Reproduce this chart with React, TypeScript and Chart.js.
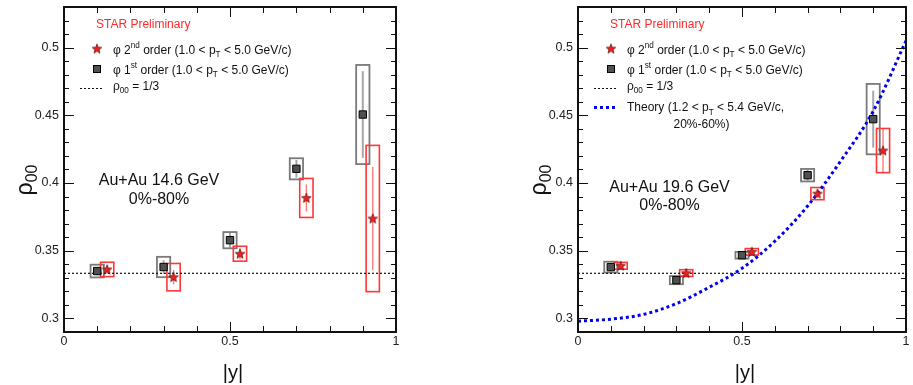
import React, { useEffect, useRef } from 'react';
import { Chart, registerables } from 'chart.js';

Chart.register(...registerables);

const FONT = '"Liberation Sans", Arial, Helvetica, sans-serif';

// ---------------- data ----------------
const xTickValues = [0, 0.5, 1];
const xTickLabels = ['0', '0.5', '1'];
const yTickValues = [0.3, 0.35, 0.4, 0.45, 0.5];
const yTickLabels = ['0.3', '0.35', '0.4', '0.45', '0.5'];

const rapidity1st = [0.1, 0.3, 0.5, 0.7, 0.9];
const rapidity2nd = [0.13, 0.33, 0.53, 0.73, 0.93];

// Au+Au 14.6 GeV
const rho1st_14p6 = [0.335, 0.338, 0.3578, 0.4105, 0.4506];
const stat1st_14p6 = [0.003, 0.005, 0.0055, 0.0065, 0.032];
const sys1st_14p6 = [0.0047, 0.0075, 0.006, 0.0078, 0.0366];
const rho2nd_14p6 = [0.3362, 0.3305, 0.3478, 0.389, 0.3738];
const stat2nd_14p6 = [0.003, 0.0053, 0.004, 0.01, 0.038];
const sys2nd_14p6 = [0.0053, 0.0101, 0.0055, 0.0144, 0.054];

// Au+Au 19.6 GeV
const rho1st_19p6 = [0.3379, 0.3283, 0.3467, 0.4058, 0.4472];
const stat1st_19p6 = [0.003, 0.002, 0.002, 0.004, 0.021];
const sys1st_19p6 = [0.004, 0.003, 0.0025, 0.0046, 0.026];
const rho2nd_19p6 = [0.3389, 0.3335, 0.3492, 0.3922, 0.424];
const stat2nd_19p6 = [0.0015, 0.0015, 0.0015, 0.003, 0.016];
const sys2nd_19p6 = [0.0025, 0.0025, 0.0024, 0.0045, 0.0163];

// Theory (1.2 < pT < 5.4 GeV/c, 20%-60%)
const theoryRapidity = [0, 0.1, 0.2, 0.3, 0.4, 0.5, 0.6, 0.7, 0.8, 0.9, 1.0];
const theoryRho = [0.298, 0.2995, 0.303, 0.311, 0.323, 0.337, 0.357, 0.383, 0.416, 0.453, 0.505];

const rhoOneThird = 1 / 3;
// --------------------------------------

const W = 457;
const H = 385;
const BOX_HALF = 0.02;

type Seg = [string, number];

interface PanelCfg {
  left: number;
  padL: number;
  padR: number;
  rho1: number[];
  stat1: number[];
  sys1: number[];
  rho2: number[];
  stat2: number[];
  sys2: number[];
  energy: string;
  centrality: string;
  energyDX: number;
  energyY: number;
  centY: number;
  theory: boolean;
}

const panel14: PanelCfg = {
  left: 0, padL: 0, padR: 61,
  rho1: rho1st_14p6, stat1: stat1st_14p6, sys1: sys1st_14p6,
  rho2: rho2nd_14p6, stat2: stat2nd_14p6, sys2: sys2nd_14p6,
  energy: 'Au+Au 14.6 GeV', centrality: '0%-80%',
  energyDX: 95, energyY: 185, centY: 203.5, theory: false,
};

const panel19: PanelCfg = {
  left: 456, padL: 58, padR: 3,
  rho1: rho1st_19p6, stat1: stat1st_19p6, sys1: sys1st_19p6,
  rho2: rho2nd_19p6, stat2: stat2nd_19p6, sys2: sys2nd_19p6,
  energy: 'Au+Au 19.6 GeV', centrality: '0%-80%',
  energyDX: 91.5, energyY: 192, centY: 210, theory: true,
};

function drawStarShape(g: CanvasRenderingContext2D, cx: number, cy: number, R: number, r: number) {
  g.beginPath();
  for (let i = 0; i < 10; i++) {
    const a = -Math.PI / 2 + (i * Math.PI) / 5;
    const rad = i % 2 === 0 ? R : r;
    const px = cx + rad * Math.cos(a);
    const py = cy + rad * Math.sin(a);
    if (i === 0) g.moveTo(px, py);
    else g.lineTo(px, py);
  }
  g.closePath();
  g.fillStyle = '#f42020';
  g.fill();
  g.strokeStyle = '#6a1212';
  g.lineWidth = 0.8;
  g.stroke();
}

function makeStar(): HTMLCanvasElement {
  const c = document.createElement('canvas');
  c.width = 12;
  c.height = 12;
  const g = c.getContext('2d')!;
  drawStarShape(g, 6, 6.4, 5, 2.1);
  return c;
}

function drawRich(ctx: CanvasRenderingContext2D, x: number, y: number, segs: Seg[], size: number, color: string) {
  let cx = x;
  ctx.fillStyle = color;
  ctx.textBaseline = 'alphabetic';
  ctx.textAlign = 'left';
  for (const [t, m] of segs) {
    const s = m === 0 ? size : size * 0.68;
    ctx.font = `${s}px ${FONT}`;
    const dy = m === 1 ? -size * 0.42 : m === -1 ? size * 0.3 : 0;
    ctx.fillText(t, cx, y + dy);
    cx += ctx.measureText(t).width;
  }
  return cx - x;
}

function makePlugin(cfg: PanelCfg, star: HTMLCanvasElement) {
  return {
    id: 'starDecor',
    beforeDatasetsDraw(chart: any) {
      const ctx: CanvasRenderingContext2D = chart.ctx;
      const xs = chart.scales.x;
      const ys = chart.scales.y;
      const a = chart.chartArea;
      ctx.save();
      ctx.beginPath();
      ctx.rect(a.left, a.top, a.right - a.left, a.bottom - a.top);
      ctx.clip();
      const series = (
        xv: number[], yv: number[], st: number[], sy: number[],
        boxColor: string, boxW: number, barColor: string, barW: number,
      ) => {
        for (let i = 0; i < xv.length; i++) {
          const px = xs.getPixelForValue(xv[i]);
          const x0 = xs.getPixelForValue(xv[i] - BOX_HALF);
          const x1 = xs.getPixelForValue(xv[i] + BOX_HALF);
          const y0 = ys.getPixelForValue(yv[i] + sy[i]);
          const y1 = ys.getPixelForValue(yv[i] - sy[i]);
          ctx.strokeStyle = barColor;
          ctx.lineWidth = barW;
          ctx.beginPath();
          ctx.moveTo(px, ys.getPixelForValue(yv[i] + st[i]));
          ctx.lineTo(px, ys.getPixelForValue(yv[i] - st[i]));
          ctx.stroke();
          ctx.strokeStyle = boxColor;
          ctx.lineWidth = boxW;
          ctx.strokeRect(x0, y0, x1 - x0, y1 - y0);
        }
      };
      series(rapidity1st, cfg.rho1, cfg.stat1, cfg.sys1, '#7a7a7a', 1.8, '#a8a8a8', 2);
      series(rapidity2nd, cfg.rho2, cfg.stat2, cfg.sys2, '#ff3636', 1.6, '#ff7a7a', 1.4);
      ctx.restore();
    },
    afterDraw(chart: any) {
      const ctx: CanvasRenderingContext2D = chart.ctx;
      const xs = chart.scales.x;
      const ys = chart.scales.y;
      const { left: L, right: R, top: T, bottom: B } = chart.chartArea;
      ctx.save();

      // ticks (inward, all four sides)
      ctx.strokeStyle = '#111';
      ctx.lineWidth = 1;
      ctx.beginPath();
      const yStep = 0.01;
      for (let k = Math.ceil(ys.min / yStep - 1e-6); k <= Math.floor(ys.max / yStep + 1e-6); k++) {
        const py = Math.round(ys.getPixelForValue(k * yStep)) + 0.5;
        const len = k % 5 === 0 ? 10 : 5;
        ctx.moveTo(L, py); ctx.lineTo(L + len, py);
        ctx.moveTo(R, py); ctx.lineTo(R - len, py);
      }
      const xStep = 0.1;
      for (let k = Math.ceil(xs.min / xStep - 1e-6); k <= Math.floor(xs.max / xStep + 1e-6); k++) {
        const px = Math.round(xs.getPixelForValue(k * xStep)) + 0.5;
        const len = k % 5 === 0 ? 10 : 6;
        ctx.moveTo(px, B); ctx.lineTo(px, B - len);
        ctx.moveTo(px, T); ctx.lineTo(px, T + len);
      }
      ctx.stroke();

      // frame
      ctx.lineWidth = 2;
      ctx.strokeStyle = '#111';
      ctx.strokeRect(L, T, R - L, B - T);

      // STAR Preliminary
      ctx.fillStyle = '#ff2a2a';
      ctx.font = `12px ${FONT}`;
      ctx.textAlign = 'left';
      ctx.textBaseline = 'alphabetic';
      ctx.fillText('STAR Preliminary', L + 32, 28);

      // legend
      const tx = L + 49;
      ctx.drawImage(star, L + 33 - 6, 49 - 6.4);
      ctx.fillStyle = '#505050';
      ctx.strokeStyle = '#000';
      ctx.lineWidth = 1;
      ctx.fillRect(L + 29.5, 65.5, 7, 7);
      ctx.strokeRect(L + 29.5, 65.5, 7, 7);
      drawRich(ctx, tx, 53.5, [['φ 2', 0], ['nd', 1], [' order (1.0 < p', 0], ['T', -1], [' < 5.0 GeV/c)', 0]], 12, '#111');
      drawRich(ctx, tx, 73.5, [['φ 1', 0], ['st', 1], [' order (1.0 < p', 0], ['T', -1], [' < 5.0 GeV/c)', 0]], 12, '#111');
      ctx.strokeStyle = '#111';
      ctx.lineWidth = 1.2;
      ctx.setLineDash([2, 2]);
      ctx.beginPath();
      ctx.moveTo(L + 16, 88.5); ctx.lineTo(L + 40, 88.5);
      ctx.stroke();
      ctx.setLineDash([]);
      drawRich(ctx, tx, 89.5, [['ρ', 0], ['00', -1], [' = 1/3', 0]], 12, '#111');
      if (cfg.theory) {
        ctx.strokeStyle = '#0000ee';
        ctx.lineWidth = 3;
        ctx.setLineDash([3, 3]);
        ctx.beginPath();
        ctx.moveTo(L + 16, 107.5); ctx.lineTo(L + 40, 107.5);
        ctx.stroke();
        ctx.setLineDash([]);
        drawRich(ctx, tx, 111, [['Theory (1.2 < p', 0], ['T', -1], [' < 5.4 GeV/c,', 0]], 12, '#111');
        drawRich(ctx, L + 95.5, 128, [['20%-60%)', 0]], 12, '#111');
      }

      // energy / centrality
      ctx.fillStyle = '#111';
      ctx.font = `16px ${FONT}`;
      ctx.textAlign = 'center';
      ctx.fillText(cfg.energy, L + cfg.energyDX, cfg.energyY);
      ctx.fillText(cfg.centrality, L + cfg.energyDX, cfg.centY);

      // axis titles
      ctx.font = `20px ${FONT}`;
      ctx.textAlign = 'center';
      ctx.fillText('|y|', (L + R) / 2 + 3, 379);

      ctx.save();
      ctx.translate(L - 32, 180);
      ctx.rotate(-Math.PI / 2);
      ctx.font = `23px ${FONT}`;
      const wr = ctx.measureText('ρ').width;
      ctx.font = `16px ${FONT}`;
      const ws = ctx.measureText('00').width;
      const start = -(wr + ws) / 2;
      ctx.textAlign = 'left';
      ctx.font = `23px ${FONT}`;
      ctx.fillText('ρ', start, 0);
      ctx.font = `16px ${FONT}`;
      ctx.fillText('00', start + wr, 5);
      ctx.restore();

      ctx.restore();
    },
  };
}

function Panel({ cfg }: { cfg: PanelCfg }) {
  const ref = useRef<HTMLCanvasElement>(null);
  useEffect(() => {
    const canvas = ref.current;
    if (!canvas) return;
    const star = makeStar();
    const datasets: any[] = [
      {
        type: 'scatter',
        label: 'φ 2nd order',
        data: rapidity2nd.map((x, i) => ({ x, y: cfg.rho2[i] })),
        pointStyle: star,
        pointRadius: 6,
      },
      {
        type: 'scatter',
        label: 'φ 1st order',
        data: rapidity1st.map((x, i) => ({ x, y: cfg.rho1[i] })),
        pointStyle: 'rect',
        pointRadius: 5.2,
        backgroundColor: '#505050',
        borderColor: '#000',
        borderWidth: 1,
      },
    ];
    if (cfg.theory) {
      datasets.push({
        type: 'line',
        label: 'Theory',
        data: theoryRapidity.map((x, i) => ({ x, y: theoryRho[i] })),
        borderColor: '#0000ee',
        borderWidth: 3,
        borderDash: [3, 3],
        pointRadius: 0,
        fill: false,
        cubicInterpolationMode: 'monotone',
        showLine: true,
      });
    }
    datasets.push({
      type: 'line',
      label: 'ρ00 = 1/3',
      data: [{ x: 0, y: rhoOneThird }, { x: 1, y: rhoOneThird }],
      borderColor: '#111',
      borderWidth: 1.2,
      borderDash: [2, 2],
      pointRadius: 0,
      fill: false,
      showLine: true,
    });

    const chart = new Chart(canvas, {
      type: 'scatter',
      data: { datasets },
      options: {
        responsive: false,
        animation: false,
        devicePixelRatio: 1,
        events: [],
        layout: { padding: { left: cfg.padL, right: cfg.padR, top: 7, bottom: 0 } },
        plugins: { legend: { display: false }, tooltip: { enabled: false } },
        scales: {
          x: {
            type: 'linear',
            min: 0,
            max: 1,
            grid: { display: false, drawTicks: false },
            border: { display: false },
            ticks: {
              autoSkip: false,
              maxRotation: 0,
              padding: 2,
              color: '#222',
              font: { family: FONT, size: 12.5 },
              callback: (_v: any, i: number) => xTickLabels[i],
            },
            afterBuildTicks: (s: any) => {
              s.ticks = xTickValues.map((v) => ({ value: v }));
            },
            afterFit: (s: any) => {
              s.height = 53;
              s.paddingLeft = 0;
              s.paddingRight = 0;
            },
          },
          y: {
            type: 'linear',
            min: 0.29,
            max: 0.53,
            grid: { display: false, drawTicks: false },
            border: { display: false },
            ticks: {
              autoSkip: false,
              padding: 5,
              color: '#222',
              font: { family: FONT, size: 12.5 },
              callback: (_v: any, i: number) => yTickLabels[i],
            },
            afterBuildTicks: (s: any) => {
              s.ticks = yTickValues.map((v) => ({ value: v }));
            },
            afterFit: (s: any) => {
              s.width = 64;
              s.paddingTop = 0;
              s.paddingBottom = 0;
            },
          },
        },
      } as any,
      plugins: [makePlugin(cfg, star) as any],
    });
    return () => chart.destroy();
  }, [cfg]);
  return (
    <canvas
      ref={ref}
      width={W}
      height={H}
      style={{ position: 'absolute', left: cfg.left, top: 0, width: W, height: H }}
    />
  );
}

export default function App() {
  return (
    <div style={{ position: 'absolute', left: 0, top: 0, width: 913, height: 385, background: '#fff', overflow: 'hidden' }}>
      <Panel cfg={panel14} />
      <Panel cfg={panel19} />
    </div>
  );
}
